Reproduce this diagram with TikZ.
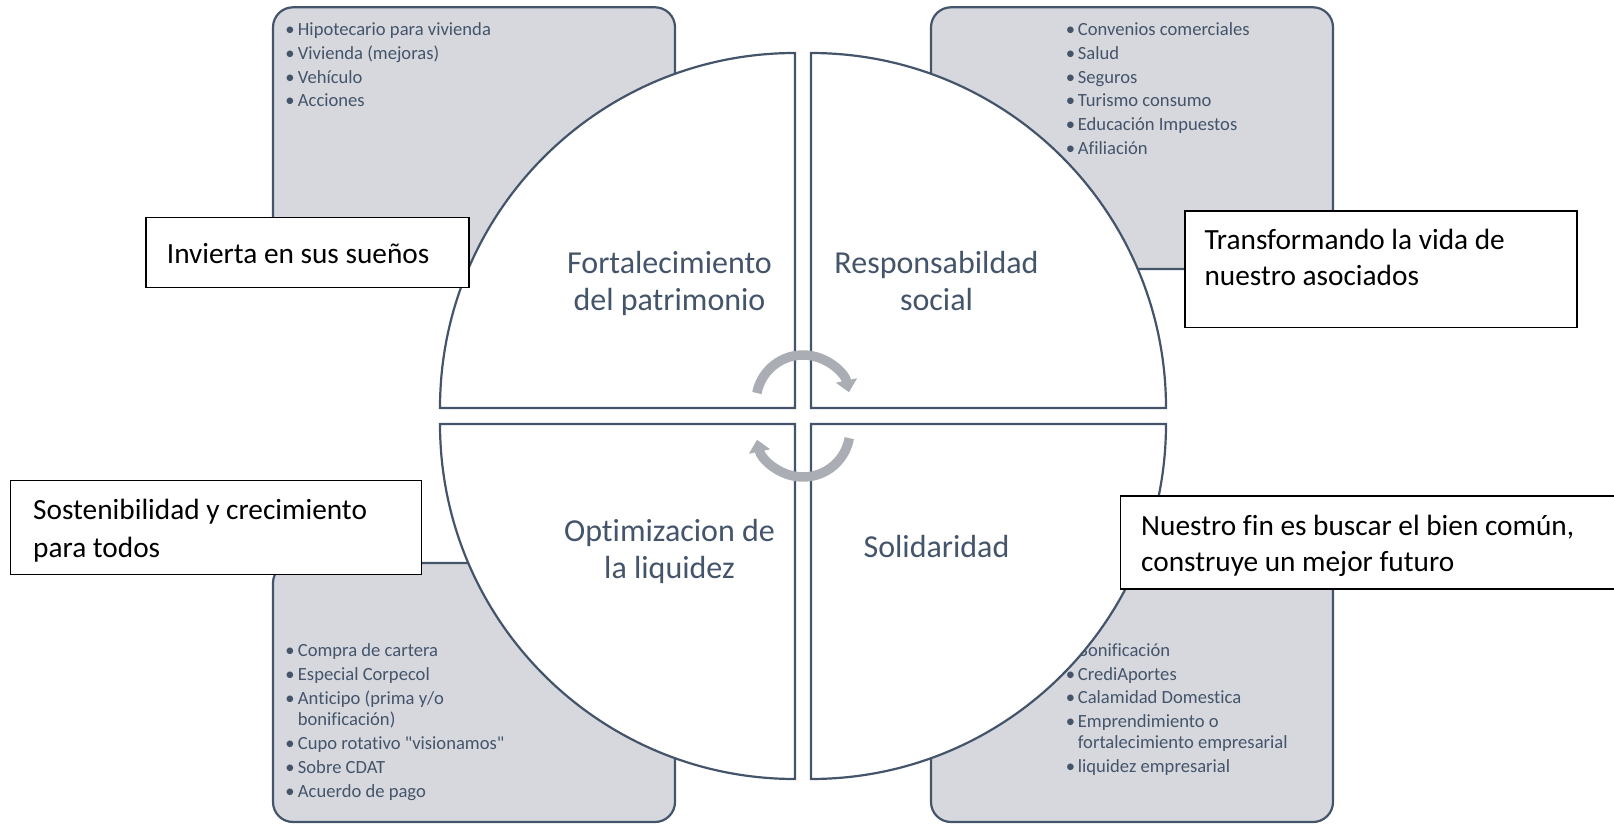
\documentclass[tikz,border=0pt]{standalone}
\usepackage{fontspec}
\setmainfont{Carlito}[Ligatures={TeXOff,NoCommon,NoContextual},Contextuals=NoAlternate]
\usetikzlibrary{arrows.meta}
\definecolor{slate}{RGB}{68,84,106}
\definecolor{panelgray}{RGB}{214,216,221}
\definecolor{cyclegray}{RGB}{170,173,180}

\begin{document}
\begin{tikzpicture}[x=1pt,y=1pt,yscale=-1,
    panel/.style={draw=slate,fill=panelgray,line width=2.2pt,rounded corners=20pt},
    pie/.style={draw=slate,fill=white,line width=2.2pt},
    item/.style={text=slate,font=\fontsize{18.6}{20.8}\selectfont,inner sep=0pt,anchor=base west},
    dot/.style={item,anchor=base},
    title/.style={text=slate,font=\fontsize{32}{36.5}\selectfont,align=center,inner sep=0pt,anchor=north},
    note/.style={draw=black,fill=white,line width=1.1pt},
    notetext/.style={font=\fontsize{29.3}{36}\selectfont,align=left,inner sep=0pt,anchor=north west},
    turn/.style={draw=cyclegray,line width=9.5pt,-{Triangle[width=21pt,length=12pt]}}]

\useasboundingbox (0,0) rectangle (1614,826);

% corner panels
\draw[panel] (273,7.3) rectangle (675,269);
\draw[panel] (931,7.3) rectangle (1333,269);
\draw[panel] (273,563) rectangle (675,822);
\draw[panel] (931,563) rectangle (1333,822);

% panel lists (1 = with bullet)
\foreach \y/\b/\t [count=\i] in {35.7/1/Hipotecario para vivienda, 59.4/1/Vivienda (mejoras),
    83.1/1/Vehículo, 106.8/1/Acciones}{
  \ifnum\b=1 \node[dot] (tldot\i) at (290,\y) {•};\fi
  \node[item] (tl\i) at (297.7,\y) {\t};
}
\foreach \y/\b/\t [count=\i] in {35.7/1/Convenios comerciales, 59.4/1/Salud, 83.1/1/Seguros,
    106.8/1/Turismo consumo, 130.5/1/Educación Impuestos, 154.2/1/Afiliación}{
  \ifnum\b=1 \node[dot] (trdot\i) at (1070.5,\y) {•};\fi
  \node[item] (tr\i) at (1077.7,\y) {\t};
}
\foreach \y/\b/\t [count=\i] in {656.5/1/Compra de cartera, 680.4/1/Especial Corpecol,
    704.1/1/{Anticipo (prima y/o}, 725.2/0/bonificación), 749.4/1/Cupo rotativo "visionamos",
    773.1/1/Sobre CDAT, 797/1/Acuerdo de pago}{
  \ifnum\b=1 \node[dot] (bldot\i) at (290,\y) {•};\fi
  \node[item] (bl\i) at (297.7,\y) {\t};
}
\foreach \y/\b/\t [count=\i] in {656.5/1/Bonificación, 680.2/1/CrediAportes,
    703.8/1/Calamidad Domestica, 727.5/1/Emprendimiento o,
    748.5/0/fortalecimiento empresarial, 772/1/liquidez empresarial}{
  \ifnum\b=1 \node[dot] (brdot\i) at (1070.5,\y) {•};\fi
  \node[item] (br\i) at (1077.7,\y) {\t};
}

% quarter circles
\draw[pie] (795,408) -- (440,408) arc(180:270:355) -- cycle;
\draw[pie] (811,408) -- (811,53) arc(270:360:355) -- cycle;
\draw[pie] (811,424) -- (1166,424) arc(0:90:355) -- cycle;
\draw[pie] (795,424) -- (795,779) arc(90:180:355) -- cycle;

\node[title] (patrimonio) at (669.5,251.5) {Fortalecimiento\\del patrimonio};
\node[title] (social) at (936.5,251.5) {Responsabildad\\social};
\node[title] (liquidez) at (669.5,519.5) {Optimizacion de\\la liquidez};
\node[title] (solidaridad) at (936.5,535) {Solidaridad};

% cycle arrows
\draw[turn] (803,402) ++(191:47) arc(191:348:47);
\draw[turn] (803,430) ++(10:47) arc(10:168:47);

% text boxes
\draw[note] (146,217.3) rectangle (469,287.3);
\node[notetext] (dreams) at (166.7,243.5) {Invierta en sus sueños};
\draw[note] (1185,211) rectangle (1577,327.3);
\node[notetext] (transform) at (1204.3,229) {Transformando la vida de\\nuestro asociados};
\draw[note] (10.3,480.7) rectangle (421.7,574.3);
\node[notetext,font=\fontsize{29.3}{38.5}\selectfont] (sustain) at (33,498.5) {Sostenibilidad y crecimiento\\para todos};
\draw[note] (1120.7,496) rectangle (1620,589);
\node[notetext] (common) at (1141,515) {Nuestro fin es buscar el bien común,\\construye un mejor futuro};
\end{tikzpicture}
\end{document}
